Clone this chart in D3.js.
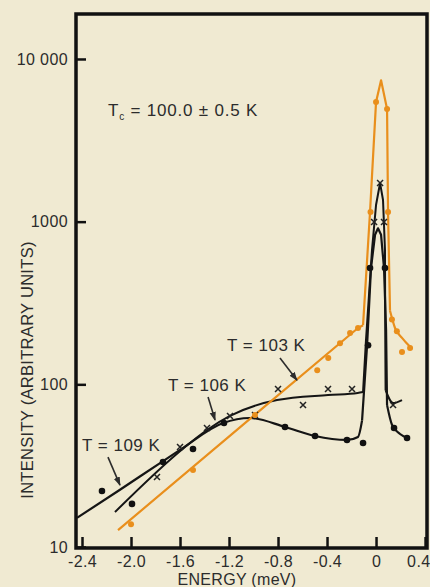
<!DOCTYPE html>
<html>
<head>
<meta charset="utf-8">
<script src="https://cdn.jsdelivr.net/npm/d3@7"></script>
<style>
  html, body { margin: 0; padding: 0; background: #f0ead2; }
  svg { display: block; font-family: "Liberation Sans", Arial, sans-serif; }
</style>
</head>
<body>
<svg id="chart" width="430" height="587"></svg>
<script>
// axis ticks
const xTicks = [-2.4, -2.0, -1.6, -1.2, -0.8, -0.4, 0, 0.4];
const xTickLabels = ['-2.4', '-2.0', '-1.6', '-1.2', '-0.8', '-0.4', '0', '0.4'];
const yTicks = [10, 100, 1000, 10000];
const yTickLabels = ['10', '100', '1000', '10 000'];

// T = 103 K  [energy meV, intensity]
const curve103 = [[-2.106, 12.7], [-1.0, 64], [-0.147, 222], [-0.106, 231], [-0.073, 581], [-0.049, 1146],
  [0.0, 5430], [0.041, 7400], [0.09, 4920], [0.098, 1146], [0.114, 283], [0.155, 222], [0.212, 193], [0.278, 170]];
const points103 = [[-2.0, 13.8], [-1.494, 29.7], [-0.988, 64.8], [-0.48, 122], [-0.39, 145], [-0.294, 179],
  [-0.212, 207], [-0.147, 222], [-0.045, 1146], [0.0, 5430], [0.09, 4920], [0.098, 1146], [0.13, 250],
  [0.17, 212], [0.212, 158], [0.278, 167]];

// T = 106 K
const curve106 = [[-2.131, 16.4], [-1.559, 41.2], [-1.38, 52.4], [-1.192, 63.9],
  [-0.808, 80], [-0.392, 85.9], [-0.15, 88.5], [-0.106, 89.7], [-0.082, 187], [-0.033, 669], [0.0, 1265],
  [0.033, 1727], [0.057, 1358], [0.073, 669], [0.075, 216], [0.078, 92], [0.139, 76.7], [0.212, 80]];
const points106 = [[-1.788, 26.9], [-1.6, 41.2], [-1.38, 53.9], [-1.192, 63.9], [-0.988, 64.8], [-0.8, 93.6],
  [-0.596, 74.6], [-0.392, 93.6], [-0.196, 93.6], [-0.016, 994], [0.033, 1727], [0.065, 994], [0.139, 74.6]];

// T = 109 K
const curve109 = [[-2.441, 15.1], [-2.09, 22.5], [-1.763, 32.8], [-1.6, 39.5], [-1.249, 57.8], [-1.029, 62.1],
  [-0.743, 54.7], [-0.498, 48.1], [-0.237, 45.5], [-0.147, 47.5], [-0.114, 60], [-0.073, 174], [-0.041, 519],
  [-0.008, 830], [0.016, 910], [0.041, 830], [0.065, 519], [0.082, 216], [0.09, 74.5], [0.131, 56.2],
  [0.196, 49.5], [0.253, 46.8]];
const points109 = [[-2.237, 22.1], [-1.992, 18.4], [-1.739, 33.3], [-1.494, 40], [-1.241, 57.8], [-0.743, 54.7],
  [-0.498, 48.1], [-0.237, 45.5], [-0.106, 43.6], [-0.065, 174], [-0.049, 519], [0.073, 519], [0.147, 53.9],
  [0.253, 46.8]];

// energy span of each central peak: [start, end]
const peak103 = [-0.106, 0.114];
const peak106 = [-0.106, 0.078];
const peak109 = [-0.114, 0.09];

// curve labels and their arrows (data coordinates)
const labelText = ['T = 103 K', 'T = 106 K', 'T = 109 K'];
const labelAt = [[-1.216, 174.5], [-1.698, 99], [-2.4, 42.4]];
const arrowFrom = [[-0.784, 145], [-1.371, 83.5], [-2.188, 35.7]];
const arrowTo = [[-0.645, 106], [-1.314, 60.3], [-2.09, 24]];
const tcAt = [-2.188, 4853];

const frame = {left: 76, top: 14, right: 427, bottom: 547};
const ink = '#2c2c2c', orange = '#e98f1c';

const svg = d3.select('#chart');

const x = d3.scaleLinear().domain([-2.449, 0.416]).range([frame.left, frame.right]);
const y = d3.scaleLog().domain([10, 18900]).range([frame.bottom, frame.top]);

let defs = svg.append('defs');
defs.append('marker')
  .attr('id', 'arrow')
  .attr('markerUnits', 'userSpaceOnUse')
  .attr('viewBox', '0 0 10 10')
  .attr('refX', 9).attr('refY', 5)
  .attr('markerWidth', 9).attr('markerHeight', 9)
  .attr('orient', 'auto')
  .append('path').attr('d', 'M0,1.5 L10,5 L0,8.5 Z').attr('fill', ink);

// frame
svg.append('rect')
  .attr('x', frame.left).attr('y', frame.top)
  .attr('width', frame.right - frame.left).attr('height', frame.bottom - frame.top + 1)
  .attr('fill', 'none').attr('stroke', '#111').attr('stroke-width', 3.5);

// axes
let yAxis = svg.append('g')
  .attr('transform', `translate(${frame.left},0)`)
  .call(d3.axisLeft(y).tickValues(yTicks).tickSize(-10).tickPadding(8)
    .tickFormat((d, i) => yTickLabels[i]));
let xAxis = svg.append('g')
  .attr('transform', `translate(0,${frame.bottom})`)
  .call(d3.axisBottom(x).tickValues(xTicks).tickSize(-10).tickPadding(9)
    .tickFormat((d, i) => xTickLabels[i]));
[yAxis, xAxis].forEach(g => {
  g.select('.domain').remove();
  g.selectAll('.tick line').attr('stroke', '#111').attr('stroke-width', 2.5);
  g.selectAll('.tick text').attr('fill', ink).style('font-size', '16px').style('letter-spacing', '0.4px');
});
// last label sits against the page edge
xAxis.selectAll('.tick text').filter(d => d === 0.4).attr('text-anchor', 'end').attr('x', 5);

svg.append('text')
  .attr('x', 237).attr('y', 585)
  .attr('text-anchor', 'middle')
  .attr('fill', ink).style('font-size', '16px').style('letter-spacing', '0.3px')
  .text('ENERGY (meV)');
svg.append('text')
  .attr('transform', 'translate(33,370) rotate(-90)')
  .attr('text-anchor', 'middle')
  .attr('fill', ink).style('font-size', '16.5px').style('letter-spacing', '0.3px')
  .text('INTENSITY (ARBITRARY UNITS)');

// curves: smooth wings, straight-sided central peak
let smooth = d3.line().x(d => x(d[0])).y(d => y(d[1])).curve(d3.curveMonotoneX);
let straight = d3.line().x(d => x(d[0])).y(d => y(d[1])).curve(d3.curveLinear);

let plot = svg.append('g').attr('fill', 'none').attr('stroke-linejoin', 'round');

function drawCurve(data, peak, color, width, wingLine) {
  let left = data.filter(d => d[0] <= peak[0]);
  let mid = data.filter(d => d[0] >= peak[0] && d[0] <= peak[1]);
  let right = data.filter(d => d[0] >= peak[1]);
  [[left, wingLine], [mid, straight], [right, smooth]].forEach(([part, gen]) => {
    plot.append('path').datum(part).attr('d', gen)
      .attr('stroke', color).attr('stroke-width', width);
  });
}

drawCurve(curve109, peak109, '#151515', 2.2, smooth);
drawCurve(curve106, peak106, '#151515', 2, smooth);
drawCurve(curve103, peak103, orange, 2.2, straight);

let marks = svg.append('g');
marks.selectAll('.p109').data(points109).join('circle')
  .attr('class', 'p109')
  .attr('cx', d => x(d[0])).attr('cy', d => y(d[1]))
  .attr('r', 3.3).attr('fill', '#111');

marks.selectAll('.p106').data(points106).join('path')
  .attr('class', 'p106')
  .attr('transform', d => `translate(${x(d[0])},${y(d[1])})`)
  .attr('d', 'M-3,-3L3,3M-3,3L3,-3')
  .attr('stroke', '#222').attr('stroke-width', 1.5);

marks.selectAll('.p103').data(points103).join('circle')
  .attr('class', 'p103')
  .attr('cx', d => x(d[0])).attr('cy', d => y(d[1]))
  .attr('r', 3).attr('fill', orange);

// annotations
let notes = svg.append('g').attr('fill', ink).style('font-size', '17px').style('letter-spacing', '0.5px');
labelText.forEach((t, i) => {
  notes.append('text')
    .attr('x', x(labelAt[i][0])).attr('y', y(labelAt[i][1]))
    .attr('dy', '0.35em')
    .text(t);
  notes.append('line')
    .attr('x1', x(arrowFrom[i][0])).attr('y1', y(arrowFrom[i][1]))
    .attr('x2', x(arrowTo[i][0])).attr('y2', y(arrowTo[i][1]))
    .attr('stroke', ink).attr('stroke-width', 1.6)
    .attr('marker-end', 'url(#arrow)');
});

let tc = notes.append('text')
  .attr('x', x(tcAt[0])).attr('y', y(tcAt[1]))
  .attr('dy', '0.35em')
  .style('letter-spacing', '0.8px');
tc.append('tspan').text('T');
tc.append('tspan').attr('dy', 4).style('font-size', '10px').text('c');
tc.append('tspan').attr('dy', -4).text(' = 100.0 \u00b1 0.5 K');
</script>
</body>
</html>
